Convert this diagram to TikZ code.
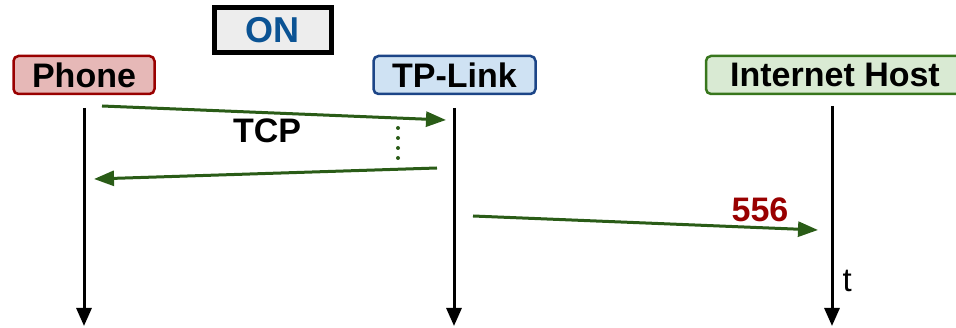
\documentclass[tikz,border=0pt]{standalone}
\usepackage{fontspec}
\setmainfont{Liberation Sans}
\usetikzlibrary{arrows.meta}
\definecolor{msggreen}{HTML}{2A5C17}
\definecolor{darkred}{HTML}{990000}
\definecolor{onblue}{HTML}{0B5394}
\definecolor{phonefill}{HTML}{E6B8B7}
\definecolor{tpfill}{HTML}{CFE2F3}
\definecolor{tpborder}{HTML}{1C4587}
\definecolor{hostfill}{HTML}{D9EAD3}
\definecolor{hostborder}{HTML}{38761D}
\tikzset{
  actor/.style={draw, rounded corners=5pt, line width=2.5pt, minimum height=38pt, inner sep=0pt, font=\fontsize{34}{34}\selectfont\bfseries},
  lifeline/.style={line width=3pt, -{Triangle[length=18pt,width=15pt]}},
  msg/.style={draw=msggreen, line width=3pt, -{Triangle[length=20pt,width=15pt]}},
  lbl/.style={font=\fontsize{34}{34}\selectfont\bfseries, inner sep=0pt}
}
\begin{document}
\begin{tikzpicture}[x=1pt,y=-1pt]
\useasboundingbox (0,0) rectangle (956,328);
% title box
\node[draw, line width=5pt, fill=black!7, minimum width=117pt, minimum height=45pt, inner sep=0pt, text=onblue, font=\fontsize{36}{36}\selectfont\bfseries] (on) at (272.5,30) {ON};
% actors
\node[actor, fill=phonefill, draw=darkred, minimum width=141pt] (phone) at (84,75) {Phone};
\node[actor, fill=tpfill, draw=tpborder, minimum width=162pt] (tp) at (454.5,75) {TP-Link};
\node[actor, fill=hostfill, draw=hostborder, minimum width=258pt] (host) at (835,75) {Internet Host};
% lifeline coordinates
\coordinate (p1) at (84,108);
\coordinate (p2) at (84,326);
\coordinate (t1) at (454,108);
\coordinate (t2) at (454,326);
\coordinate (h1) at (832,106);
\coordinate (h2) at (832,326);
\draw[lifeline] (p1) -- (p2);
\draw[lifeline] (t1) -- (t2);
\draw[lifeline] (h1) -- (h2) node[pos=0.795, right=9pt, font=\fontsize{33}{33}\selectfont, inner sep=0pt] (tl) {t};
% messages
\coordinate (m1a) at (102,106);
\coordinate (m1b) at (446,120);
\coordinate (m2a) at (437,168);
\coordinate (m2b) at (94,179);
\coordinate (m3a) at (473,216);
\coordinate (m3b) at (818,230);
\coordinate (d1) at (398,128);
\coordinate (d2) at (398,160);
\draw[msg] (m1a) -- (m1b);
\draw[msg] (m2a) -- (m2b);
\draw[msg] (m3a) -- (m3b);
\draw[msggreen, line width=4pt, line cap=round, dash pattern=on 0pt off 10pt] (d1) -- (d2);
\node[lbl] (tcp) at (267,131) {TCP};
\node[lbl, text=darkred] (n556) at (760,210) {556};
\end{tikzpicture}
\end{document}
